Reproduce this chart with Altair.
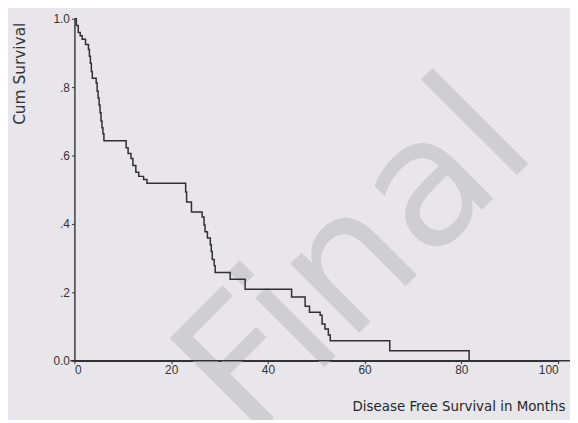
import altair as alt
import pandas as pd

# Kaplan-Meier step curve (months, cumulative survival)
months = [0, 0.4, 0.8, 1.2, 1.6, 2.3, 2.9, 3.1, 3.3, 3.5, 3.7, 4.5, 4.7, 4.9, 5.1,
          5.3, 5.5, 5.7, 5.9, 6.1, 10.7, 11.1, 11.7, 12.1, 12.7, 13.3, 14.3, 15.0,
          23.0, 23.2, 24.2, 26.4, 26.8, 27.0, 27.5, 28.1, 28.3, 28.5, 28.9, 29.1,
          32.2, 35.3, 44.9, 47.7, 48.6, 50.8, 51.2, 51.8, 52.5, 52.9, 65.2, 81.6]
survival = [1.0, 0.98, 0.96, 0.95, 0.94, 0.925, 0.91, 0.89, 0.87, 0.846, 0.826,
            0.812, 0.788, 0.768, 0.748, 0.725, 0.701, 0.681, 0.664, 0.643, 0.623,
            0.606, 0.591, 0.571, 0.551, 0.539, 0.530, 0.519, 0.493, 0.464, 0.435,
            0.420, 0.397, 0.377, 0.359, 0.339, 0.319, 0.296, 0.278, 0.258, 0.238,
            0.209, 0.186, 0.159, 0.142, 0.133, 0.107, 0.093, 0.075, 0.058, 0.029, 0.0]

x_ticks = [0, 20, 40, 60, 80, 100]
y_ticks = [0, 0.2, 0.4, 0.6, 0.8, 1.0]
watermark = ["Final"]

df = pd.DataFrame({"t": months, "s": survival})

axis_col = "#333337"
font = "Liberation Sans"
title_font = "DejaVu Sans"

curve = alt.Chart(df).mark_line(
    interpolate="step-after", color="#2e2e33", strokeWidth=1.5
).encode(
    x=alt.X("t:Q", scale=alt.Scale(domain=[0, 100], nice=False),
            axis=alt.Axis(values=x_ticks, title="Disease Free Survival in Months",
                          grid=False, domainColor=axis_col, domainWidth=1.4,
                          tickColor=axis_col, tickSize=3, labelColor="#333337",
                          labelFont=font, labelFontSize=12, labelPadding=1,
                          titleFont=title_font, titleFontSize=13.5,
                          titleFontWeight="normal",
                          titleColor="#262629", titleAlign="right",
                          titleAnchor="end", titleX=495, titleY=46,
                          titleBaseline="middle")),
    y=alt.Y("s:Q", scale=alt.Scale(domain=[0, 1], nice=False),
            axis=alt.Axis(values=y_ticks, title="Cum Survival", grid=False,
                          labelExpr="datum.value == 0 ? '0.0' : datum.value == 1 ? '1.0' : '.' + format(datum.value * 10, '.0f')",
                          domainColor=axis_col, domainWidth=1.4, tickColor=axis_col,
                          tickSize=3, labelColor="#333337", labelFont=font,
                          labelFontSize=12, labelPadding=2,
                          titleFont=title_font, titleFontSize=15.5,
                          titleFontWeight="normal",
                          titleColor="#333337", titleAngle=270,
                          titleX=-55, titleY=55, titleAlign="center",
                          titleBaseline="middle")),
)

# x-axis line runs on past 100 to the right edge, as in the scan
axis_ext = alt.Chart(pd.DataFrame({"w": watermark})).mark_rule(
    color=axis_col, strokeWidth=1.4
).encode(x=alt.value(-4), x2=alt.value(500), y=alt.value(345))

wm = alt.Chart(pd.DataFrame({"w": watermark})).mark_text(
    font=title_font, fontSize=180, color="#cfcfd3", angle=315,
    align="center", baseline="alphabetic"
).encode(
    text="w:N", x=alt.value(323), y=alt.value(281)
)

chart = alt.layer(wm, axis_ext, curve).properties(
    width=488, height=345,
    autosize=alt.AutoSizeParams(type="none"),
    padding={"left": 67, "top": 9, "right": 12, "bottom": 58},
    background="#e8e6ea",
).configure_view(stroke=None)

chart.save("out.html", embed_options={"renderer": "svg", "actions": False})
